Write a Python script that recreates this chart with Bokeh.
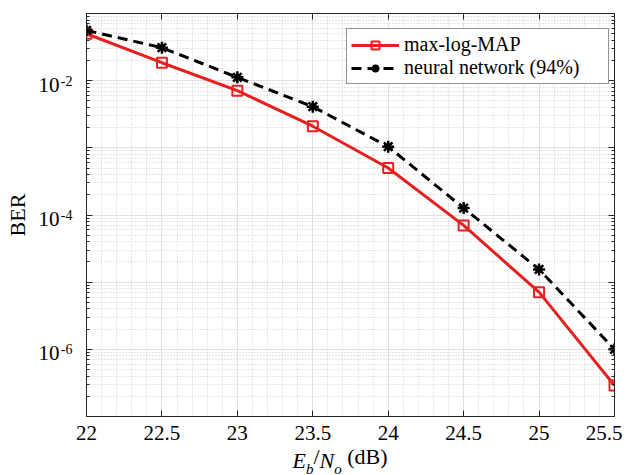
from bokeh.plotting import figure
from bokeh.models import (FixedTicker, LinearAxis, LogAxis, Legend, LegendItem,
                          CustomJSTickFormatter, Range1d)
from bokeh.embed import file_html
from bokeh.resources import INLINE

# ---- data ----
ebno = [22, 22.5, 23, 23.5, 24, 24.5, 25, 25.5]
ber_maxlog = [5.0e-2, 1.85e-2, 7.1e-3, 2.1e-3, 5.0e-4, 7.0e-5, 7.1e-6, 2.9e-7]
ber_nn = [5.6e-2, 3.1e-2, 1.12e-2, 4.1e-3, 1.04e-3, 1.27e-4, 1.55e-5, 1.0e-6]
series_names = ["max-log-MAP", "neural network (94%)"]

x_ticks = [22, 22.5, 23, 23.5, 24, 24.5, 25, 25.5]
x_tick_labels = ["22", "22.5", "23", "23.5", "24", "24.5", "25", "25.5"]
y_decade_exps = [-7, -6, -5, -4, -3, -2, -1]
y_label_exps = [-2, -4, -6]
y_label_base = "10"
y_axis_title = "BER"
x_label_parts = ["E", "b", "/", "N", "o", "(dB)"]

FONT = "Liberation Serif"
RED = "#E62020"
AX = "#262626"
FW, FH = 528, 403
X0, X1 = 22, 25.5
YLO_E, YHI_E = -7, -1

x_minor = [X0 + 0.1 * i for i in range(36)]
y_major = [10.0 ** e for e in y_decade_exps]
y_minor = [m * 10.0 ** e for e in y_decade_exps[:-1] for m in range(2, 10)]

p = figure(frame_width=FW, frame_height=FH,
           x_range=Range1d(X0, X1), y_range=Range1d(10.0 ** YLO_E, 10.0 ** YHI_E),
           y_axis_type="log", output_backend="svg", toolbar_location=None,
           min_border_left=86, min_border_top=13, min_border_right=8, min_border_bottom=20,
           background_fill_color="white", border_fill_color="white")
p.outline_line_color = AX
p.outline_line_width = 1

xticker = FixedTicker(ticks=x_ticks, minor_ticks=x_minor)
yticker = FixedTicker(ticks=y_major, minor_ticks=y_minor)
empty = CustomJSTickFormatter(code="return ''")


def label_formatter(tvals, labels):
    return CustomJSTickFormatter(args=dict(tks=list(tvals), lbls=list(labels)), code="""
        let best = 0;
        for (let i = 0; i < tks.length; i++) {
            if (Math.abs(tks[i] - tick) < Math.abs(tks[best] - tick)) best = i;
        }
        return lbls[best];
    """)


def text_axis(cls, place, tvals, labels, standoff, size, style="normal"):
    ax = cls(ticker=FixedTicker(ticks=list(tvals), minor_ticks=[]),
             formatter=label_formatter(tvals, labels),
             axis_line_color=None, major_tick_line_color=None,
             minor_tick_line_color=None, major_tick_in=0, major_tick_out=0,
             minor_tick_in=0, minor_tick_out=0,
             major_label_standoff=standoff, major_label_text_font=FONT,
             major_label_text_font_size=size, major_label_text_font_style=style,
             major_label_text_color="black")
    p.add_layout(ax, place)
    return ax


# bottom axis
xa = p.xaxis[0]
xa.ticker = xticker
xa.formatter = label_formatter(x_ticks, x_tick_labels)
xa.major_label_text_font = FONT
xa.major_label_text_font_size = "21px"
xa.major_label_text_color = "black"
xa.major_label_standoff = 5
xa.major_tick_in = 6
xa.major_tick_out = 0
xa.minor_tick_line_color = None
xa.axis_line_color = AX
xa.major_tick_line_color = AX

# left axis (ticks only)
ya = p.yaxis[0]
ya.ticker = yticker
ya.formatter = empty
ya.major_label_standoff = 0
ya.major_label_text_font_size = "0px"
ya.major_tick_in = 6
ya.major_tick_out = 0
ya.minor_tick_in = 3
ya.minor_tick_out = 0
ya.axis_line_color = AX
ya.major_tick_line_color = AX
ya.minor_tick_line_color = AX

# top and right axes (ticks only)
top = LinearAxis(ticker=xticker, formatter=empty, major_tick_in=6, major_tick_out=0,
                 minor_tick_line_color=None, axis_line_color=AX, major_tick_line_color=AX,
                 major_label_standoff=0, major_label_text_font_size="0px")
p.add_layout(top, "above")
right = LogAxis(ticker=yticker, formatter=empty, major_tick_in=6, major_tick_out=0,
                minor_tick_in=3, minor_tick_out=0, axis_line_color=AX,
                major_tick_line_color=AX, minor_tick_line_color=AX,
                major_label_standoff=0, major_label_text_font_size="0px")
p.add_layout(right, "right")

# y tick labels: exponent (raised, small) then base "10", then the axis title
px_per_decade = FH / (YHI_E - YLO_E)
text_axis(LogAxis, "left", [10.0 ** e for e in y_label_exps],
          [str(e) for e in y_label_exps], 14, "14px")
base_ax = text_axis(LogAxis, "left", [10.0 ** (e - 4 / px_per_decade) for e in y_label_exps],
                    [y_label_base] * len(y_label_exps), -2, "21px")
base_ax.axis_label = y_axis_title
base_ax.axis_label_standoff = 6
base_ax.axis_label_text_font = FONT
base_ax.axis_label_text_font_style = "normal"
base_ax.axis_label_text_font_size = "22px"
base_ax.axis_label_text_color = "black"

# x axis label E_b/N_o (dB), pieces placed by pixel offsets from the frame centre
px_per_x = FW / (X1 - X0)
xc = (X0 + X1) / 2
centres = [-51.3, -40.85, -34.05, -23.65, -12.55, 16.9]
pos = [xc + c / px_per_x for c in centres]
text_axis(LinearAxis, "below", [pos[2], pos[5]], [x_label_parts[2], x_label_parts[5]],
          1, "22px", "normal")
text_axis(LinearAxis, "below", [pos[0], pos[3]], [x_label_parts[0], x_label_parts[3]],
          -24, "22px", "italic")
text_axis(LinearAxis, "below", [pos[1], pos[4]], [x_label_parts[1], x_label_parts[4]],
          -15, "15px", "italic")

# grids
for g in (p.xgrid[0], p.ygrid[0]):
    g.grid_line_color = "#e0e0e0"
    g.grid_line_width = 1
    g.minor_grid_line_color = "#cccccc"
    g.minor_grid_line_dash = "1 2"
    g.minor_grid_line_width = 1
p.xgrid[0].ticker = xticker
p.ygrid[0].ticker = yticker

# data
r1 = p.line(ebno, ber_maxlog, line_color=RED, line_width=3)
r1m = p.scatter(ebno, ber_maxlog, marker="square", size=10, line_color=RED,
                fill_color=None, line_width=2)
r2 = p.line(ebno, ber_nn, line_color="black", line_width=3, line_dash="10 6")
r2m = p.scatter(ebno, ber_nn, marker="asterisk", size=12, line_color="black", line_width=2.5)

legend = Legend(items=[LegendItem(label=series_names[0], renderers=[r1, r1m]),
                       LegendItem(label=series_names[1], renderers=[r2, r2m])],
                location=(260, 332), padding=4, spacing=0, margin=0,
                glyph_width=48, glyph_height=20, label_height=20, label_width=200,
                label_standoff=5, label_text_font=FONT, label_text_font_size="20px",
                label_text_color="black", border_line_color=AX, border_line_width=1,
                background_fill_color="white", background_fill_alpha=1)
p.add_layout(legend)

open("out.html", "w").write(file_html(p, INLINE))
